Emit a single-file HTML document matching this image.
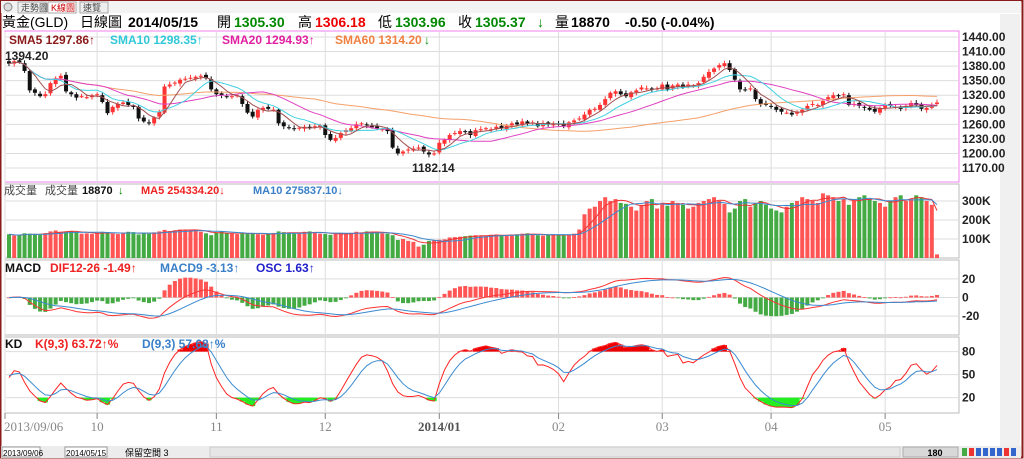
<!DOCTYPE html>
<html><head><meta charset="utf-8">
<style>
html,body{margin:0;padding:0;background:#fff;}
body{width:1024px;height:459px;overflow:hidden;position:relative;font-family:"Liberation Sans","Noto Sans CJK TC",sans-serif;}
svg{position:absolute;left:0;top:0;}
svg text{font-family:"Liberation Sans","Noto Sans CJK TC",sans-serif;}
</style></head>
<body>
<svg id="c" width="1024" height="459"></svg>
<script>
const closes=[1385,1390,1388,1370,1330,1325,1318,1322,1345,1355,1360,1328,1322,1315,1318,1316,1320,1322,1306,1283,1296,1302,1305,1300,1296,1272,1266,1262,1274,1286,1338,1342,1346,1352,1354,1356,1358,1360,1355,1332,1322,1320,1316,1318,1320,1302,1284,1276,1290,1294,1292,1290,1262,1256,1252,1250,1253,1255,1252,1256,1258,1238,1228,1232,1242,1248,1252,1260,1262,1258,1254,1252,1250,1246,1212,1200,1204,1208,1210,1212,1204,1198,1200,1222,1228,1238,1242,1246,1244,1238,1248,1250,1252,1250,1255,1252,1258,1262,1260,1266,1262,1264,1256,1262,1260,1262,1260,1256,1264,1268,1272,1280,1290,1292,1300,1312,1325,1328,1322,1318,1326,1330,1336,1334,1332,1334,1342,1332,1340,1342,1336,1342,1340,1345,1358,1368,1375,1382,1386,1372,1352,1332,1330,1334,1312,1302,1300,1296,1290,1286,1284,1280,1286,1290,1298,1302,1300,1308,1316,1320,1318,1322,1300,1302,1298,1294,1290,1286,1294,1300,1298,1296,1292,1298,1304,1300,1292,1294,1300,1305];
const volumes=[125,118,120,130,128,126,122,130,140,145,138,140,142,135,128,130,126,132,138,135,128,126,130,138,136,124,130,128,135,140,148,142,146,150,150,148,145,138,130,120,135,140,130,128,126,132,128,130,125,122,124,132,140,136,130,128,132,138,140,136,128,126,122,130,128,125,132,138,135,140,138,132,130,128,120,95,100,90,85,60,70,90,92,96,98,108,110,112,115,118,120,118,116,122,124,120,118,122,125,128,130,124,120,118,122,125,120,118,122,128,150,230,260,270,300,320,300,310,290,285,270,250,280,300,310,260,290,275,300,290,280,260,270,290,300,310,320,300,285,240,260,300,310,270,290,300,280,260,250,240,270,290,300,320,310,300,290,340,330,320,300,310,280,300,320,330,310,300,290,270,300,320,330,300,310,330,320,300,280,19];
const priceTicks=[1440,1410,1380,1350,1320,1290,1260,1230,1200,1170];
const volTicks=[100,200,300];
const macdTicks=[20,0,-20];
const kdTicks=[20,50,80];
const monthLabels=["2013/09/06","10","11","12","2014/01","02","03","04","05"];
const monthIdx=[0,17,40,61,83,106,126,147,169];

const NS="http://www.w3.org/2000/svg";
const svg=document.getElementById('c');
function el(t,a,p){const e=document.createElementNS(NS,t);for(const k in a)e.setAttribute(k,a[k]);(p||svg).appendChild(e);return e;}
function tx(x,y,s,fill,size,weight,anchor){const e=el('text',{x:x,y:y,fill:fill,'font-size':size||12,'font-weight':weight||'bold','text-anchor':anchor||'start'});e.textContent=s;return e;}

const N=closes.length, X0=9, X1=937;
const xs=i=>X0+(X1-X0)*i/(N-1);
const yP=p=>37+(1440-p)*0.4852;
const yV=v=>258-v*0.19;
const yM=m=>297.5-m*0.93;
const yK=k=>413-(k)*0.767+0;
const frame=el('rect',{x:0.5,y:0.5,width:1022,height:457,fill:'none',stroke:'#8b1a1a','stroke-width':2});


const sidebar=el('rect',{x:1000,y:14,width:20,height:432,fill:'#f0f0f0'});


const tabBar=el('rect',{x:1,y:1,width:1020,height:12,fill:'#f3f3f3'});


const tabs=[["走勢圖",18,'#444'],["K線圖",48,'#c00'],["速覽",80,'#444']];
tabs.forEach(t=>{const r=el('rect',{x:t[1],y:2,width:28,height:11,fill:t[0]=="K線圖"?'#fff':'#eee',stroke:'#aaa'});


const tt=tx(t[1]+3,11,t[0],t[2],9,'normal');

});
const closeBtn=el('circle',{cx:8,cy:7,r:4,fill:'#ddd',stroke:'#888'});


const hdr=[["黃金(GLD)",2,'#000','normal'],["日線圖",80,'#000','normal'],["2014/05/15",128,'#000','bold'],["開",217,'#000','normal'],["1305.30",234,'#080','bold'],["高",298,'#000','normal'],["1306.18",315,'#e00','bold'],["低",378,'#000','normal'],["1303.96",395,'#080','bold'],["收",458,'#000','normal'],["1305.37",475,'#080','bold'],["↓",537,'#080','bold'],["量",555,'#000','normal'],["18870",571,'#000','bold'],["-0.50 (-0.04%)",625,'#000','bold']];
hdr.forEach(h=>{const t=tx(h[1],27,h[0],h[2],14,h[3]);

});
const panels=[[31,182,'#f07ff0'],[184,258,'#bbb'],[260,335,'#bbb'],[337,413,'#bbb']];
panels.forEach((p,k)=>{const r=el('rect',{x:5,y:p[0],width:954,height:p[1]-p[0],fill:'#fff',stroke:p[2]});

});
function hgrid(y){const l=el('line',{x1:6,x2:958,y1:y,y2:y,stroke:'#ddd'});

}
priceTicks.forEach(p=>{hgrid(yP(p));const t=tx(962,yP(p)+4,p.toFixed(2),'#222',12);

});
volTicks.forEach(v=>{hgrid(yV(v));const t=tx(962,yV(v)+4,v+'K','#222',12);

});
macdTicks.forEach(v=>{hgrid(yM(v));const t=tx(962,yM(v)+4,String(v),'#222',12);

});
kdTicks.forEach(v=>{hgrid(yK(v));const t=tx(962,yK(v)+4,String(v),'#222',12);

});
monthIdx.forEach((m,k)=>{const x=m==0?5:xs(m);
const l=el('line',{x1:x,x2:x,y1:32,y2:418,stroke:'#ddd'});


const tk=el('line',{x1:x,x2:x,y1:413,y2:419,stroke:'#888'});


const t=tx(m==0?4:x,431,monthLabels[k],k==4?'#555':'#888',13,k==4?'bold':'normal',m==0?'start':'middle');
t.style.fontFamily='"Liberation Serif",serif';

});
const opens=closes.map((c,i)=>i?closes[i-1]+(i%3-1)*2:c+5);
const highs=closes.map((c,i)=>Math.max(c,opens[i])+3+(i%4));
const lows=closes.map((c,i)=>Math.min(c,opens[i])-3-((i+2)%4));
function sma(a,n){return a.map((v,i)=>{const s=Math.max(0,i-n+1);let t=0;for(let j=s;j<=i;j++)t+=a[j];return t/(i-s+1);});}
function ema(a,n){const k=2/(n+1);let r=[];a.forEach((v,i)=>r.push(i?r[i-1]+k*(v-r[i-1]):v));return r;}
function line(arr,yf,color,name){let d='';arr.forEach((v,i)=>d+=(i?'L':'M')+xs(i).toFixed(1)+' '+yf(v).toFixed(1));
const p=el('path',{d:d,fill:'none',stroke:color,'stroke-width':1});

}
closes.forEach((c,i)=>{const up=c>=opens[i];const x=xs(i);const col=up?'#f33':'#111';
const w=el('line',{x1:x,x2:x,y1:yP(highs[i]),y2:yP(lows[i]),stroke:col});


const t=yP(Math.max(c,opens[i])),b=yP(Math.min(c,opens[i]));
const r=el('rect',{x:x-2,y:t,width:4,height:Math.max(1,b-t),fill:col});

});
line(sma(closes,60),yP,'#f5a06a','sma60-line');
line(sma(closes,20),yP,'#e040c0','sma20-line');
line(sma(closes,10),yP,'#40d0e0','sma10-line');
line(sma(closes,5),yP,'#a05050','sma5-line');
[["SMA5 1297.86↑",9,'#8b1a1a'],["SMA10 1298.35↑",110,'#30c8d8'],["SMA20 1294.93↑",222,'#e020a0'],["SMA60 1314.20",335,'#f08040']].forEach(l=>{const t=tx(l[1],44,l[0],l[2],12);

});
const a60=tx(424,44,'↓','#080',12);


const hiL=tx(5,60,'1394.20','#222',12);


const loL=tx(412,172,'1182.14','#222',12);


volumes.forEach((v,i)=>{const up=closes[i]>=opens[i];const x=xs(i);
const r=el('rect',{x:x-2,y:yV(v),width:4,height:258-yV(v),fill:up?'#f55':'#4a4'});

});
line(sma(volumes,5),yV,'#e33','volume-ma5');
line(sma(volumes,10),yV,'#3a8ad0','volume-ma10');
[["成交量",4,'#444','normal'],["成交量",45,'#444','normal'],["18870",82,'#111','bold'],["↓",118,'#080','bold'],["MA5 254334.20↓",141,'#e22','bold'],["MA10 275837.10↓",253,'#3a80c8','bold']].forEach(l=>{const t=tx(l[1],194,l[0],l[2],11,l[3]);

});
const e12=ema(closes,12),e26=ema(closes,26);
const dif=e12.map((v,i)=>v-e26[i]);
const sig=ema(dif,9);
dif.forEach((d,i)=>{const o=(d-sig[i])*2;const x=xs(i);const y0=yM(0),y1=yM(o);
const r=el('rect',{x:x-2,y:Math.min(y0,y1),width:4,height:Math.max(0.8,Math.abs(y1-y0)),fill:o>=0?'#f55':'#4a4'});

});
line(dif,yM,'#f33','macd-dif-line');
line(sig,yM,'#3a8ad0','macd-signal-line');
[["MACD",5,'#111'],["DIF12-26 -1.49↑",50,'#e22'],["MACD9 -3.13↑",160,'#3a80c8'],["OSC 1.63↑",256,'#22c']].forEach(l=>{const t=tx(l[1],272,l[0],l[2],12);

});
let K=[],D=[];
closes.forEach((c,i)=>{const s=Math.max(0,i-8);let h=-1e9,l=1e9;for(let j=s;j<=i;j++){h=Math.max(h,highs[j]);l=Math.min(l,lows[j]);}
const rsv=h>l?(c-l)/(h-l)*100:50;const pk=i?K[i-1]:50,pd=i?D[i-1]:50;
K.push(pk*2/3+rsv/3);D.push(pd*2/3+K[i]/3);});
function fillZone(thr,above,color,name){let d='';for(let i=0;i<N;i++){const v=K[i];if(above?v>thr:v<thr){d+='M'+xs(i)+' '+yK(thr)+'L'+xs(i)+' '+yK(v);}}
const p=el('path',{d:d,stroke:color,'stroke-width':5.2,fill:'none'});

}
fillZone(80,true,'#e00','kd-overbought-fill');
fillZone(20,false,'#2e2','kd-oversold-fill');
line(K,yK,'#f22','kd-k-line');
line(D,yK,'#3a8ad0','kd-d-line');
[["KD",5,'#111'],["K(9,3) 63.72↑%",35,'#e22'],["D(9,3) 57.68↑%",142,'#3a80c8']].forEach(l=>{const t=tx(l[1],348,l[0],l[2],12);

});
const tb=el('rect',{x:1,y:446,width:1020,height:12,fill:'#ececec'});


[[2,"2013/09/06",38],[65,"2014/05/15",42]].forEach(b=>{const r=el('rect',{x:b[0],y:447,width:b[2],height:10,fill:'#fff',stroke:'#999'});


const t=tx(b[0]+1,456,b[1],'#000',8,'normal');

});
const keep=tx(125,456,'保留空間 3','#000',9,'normal');


const scroll=el('rect',{x:210,y:447,width:690,height:10,fill:'#e6e6e6',stroke:'#ccc'});


const cnt=el('rect',{x:903,y:447,width:55,height:10,fill:'#d8d8d8',stroke:'#aaa'});


const cntT=tx(935,456,'180','#000',9,'bold','middle');


for(let k=0;k<8;k++){const ic=el('rect',{x:962+k*7,y:448,width:5,height:8,fill:['#4a4','#e33','#36c','#36c','#36c','#36c','#e33','#36c'][k]});

}
</script>
</body></html>
